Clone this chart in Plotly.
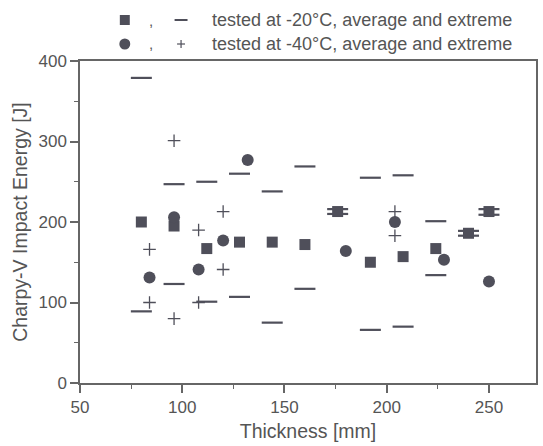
import plotly.graph_objects as go

# -20°C: average (squares) and extremes (dashes)
t20 = [80, 96, 112, 128, 144, 160, 176, 192, 208, 224, 240, 250]
avg20 = [200, 195, 167, 175, 175, 172, 213, 150, 157, 167, 186, 213]
max20 = [379, 247, 250, 260, 238, 269, 216, 255, 258, 201, 189, 216]
min20 = [89, 123, 101, 107, 75, 117, 210, 66, 70, 134, 183, 209]

# -40°C: average (circles) and extremes (plus)
t40 = [84, 96, 108, 120, 132, 180, 204, 228, 250]
avg40 = [131, 206, 141, 177, 277, 164, 200, 153, 126]
t40x = [84, 96, 108, 120, 204]
max40 = [166, 301, 190, 213, 213]
min40 = [100, 80, 100, 141, 183]

x_ticks = [50, 100, 150, 200, 250]
y_ticks = [0, 100, 200, 300, 400]

MC = "#4f4f5a"
TC = "#555555"
FONT = "Liberation Sans, Arial, sans-serif"

fig = go.Figure()
fig.add_trace(go.Scatter(x=t20 + t20, y=max20 + min20, mode="markers",
                         marker=dict(symbol="line-ew", size=15, line=dict(color=MC, width=2.2)),
                         showlegend=False))
fig.add_trace(go.Scatter(x=t40x + t40x, y=max40 + min40, mode="markers",
                         marker=dict(symbol="cross-thin", size=9, line=dict(color=MC, width=1.3)),
                         showlegend=False))
fig.add_trace(go.Scatter(x=t20, y=avg20, mode="markers",
                         marker=dict(symbol="square", size=11, color=MC), showlegend=False))
fig.add_trace(go.Scatter(x=t40, y=avg40, mode="markers",
                         marker=dict(symbol="circle", size=12, color=MC), showlegend=False))

L, R, T, B = 80, 538, 61, 383
W, H = 543, 446


def px(xp):
    return (xp - L) / (R - L)


def py(yp):
    return (B - yp) / (B - T)


shapes = []
anns = []
rows = [(20, "square", "dash", "tested at -20°C, average and extreme"),
        (44, "circle", "plus", "tested at -40°C, average and extreme")]
for yc, m, e, txt in rows:
    if m == "square":
        shapes.append(dict(type="rect", xref="paper", yref="paper",
                           x0=px(120), x1=px(130), y0=py(yc + 5), y1=py(yc - 5),
                           fillcolor=MC, line=dict(width=0)))
    else:
        shapes.append(dict(type="circle", xref="paper", yref="paper",
                           x0=px(119.5), x1=px(130.5), y0=py(yc + 5.5), y1=py(yc - 5.5),
                           fillcolor=MC, line=dict(width=0)))
    if e == "dash":
        shapes.append(dict(type="line", xref="paper", yref="paper",
                           x0=px(175), x1=px(188), y0=py(yc), y1=py(yc),
                           line=dict(color=MC, width=2)))
    else:
        shapes.append(dict(type="line", xref="paper", yref="paper",
                           x0=px(177.5), x1=px(185.5), y0=py(yc), y1=py(yc),
                           line=dict(color=MC, width=1.2)))
        shapes.append(dict(type="line", xref="paper", yref="paper",
                           x0=px(181.5), x1=px(181.5), y0=py(yc - 4), y1=py(yc + 4),
                           line=dict(color=MC, width=1.2)))
    anns.append(dict(xref="paper", yref="paper", x=px(151), y=py(yc), text=",",
                     showarrow=False, xanchor="center", yanchor="middle",
                     font=dict(size=15, color=TC, family=FONT)))
    anns.append(dict(xref="paper", yref="paper", x=px(211), y=py(yc), text=txt,
                     showarrow=False, xanchor="left", yanchor="middle",
                     font=dict(size=18, color=TC, family=FONT)))

axis_common = dict(showline=True, linecolor="#666666", linewidth=1.5, mirror=True,
                   ticks="outside", ticklen=8, tickwidth=1.5, tickcolor="#666666",
                   showgrid=False, zeroline=False,
                   tickfont=dict(size=17, color=TC, family=FONT))

fig.update_layout(
    width=W, height=H,
    margin=dict(l=L, r=W - R, t=T, b=H - B),
    paper_bgcolor="white", plot_bgcolor="white",
    shapes=shapes, annotations=anns,
    xaxis=dict(range=[50, 273], tickvals=x_ticks,
               minor=dict(ticks="outside", ticklen=4, dtick=25, tickcolor="#666666", tickwidth=1.2),
               title=dict(text="Thickness [mm]", font=dict(size=19.5, color=TC, family=FONT), standoff=8),
               **axis_common),
    yaxis=dict(range=[0, 400], tickvals=y_ticks,
               minor=dict(ticks="outside", ticklen=4, dtick=50, tickcolor="#666666", tickwidth=1.2),
               title=dict(text="Charpy-V Impact Energy [J]", font=dict(size=19.5, color=TC, family=FONT), standoff=6),
               **axis_common),
    font=dict(family=FONT, color=TC),
)

fig.write_html("out.html")
